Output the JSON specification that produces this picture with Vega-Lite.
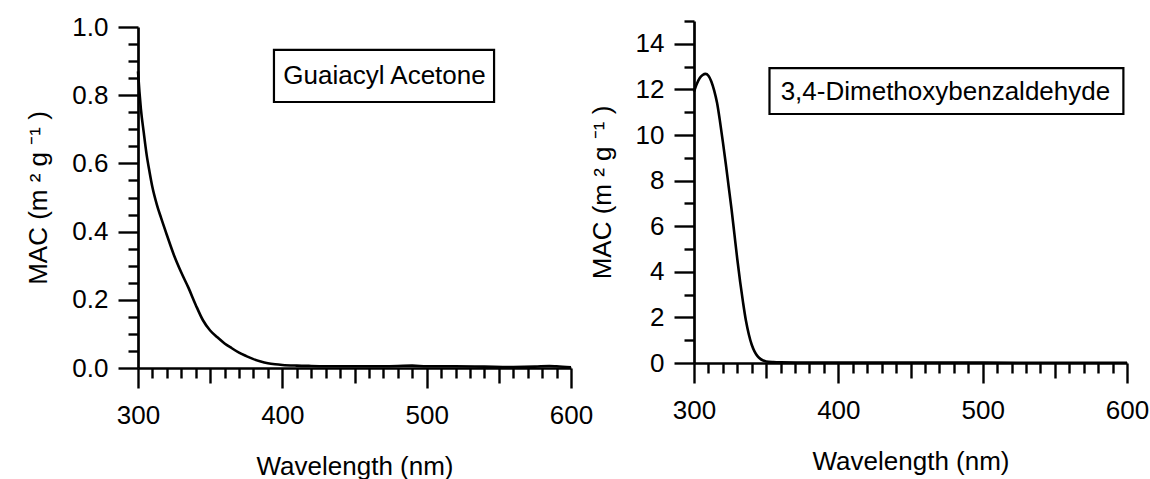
{
  "$schema": "https://vega.github.io/schema/vega-lite/v6.json",
  "autosize": {"type": "pad"},
  "padding": {"left": 25, "top": 14, "right": 0, "bottom": 0},
  "background": "white",
  "spacing": 123,
  "bounds": "flush",
  "config": {
    "view": {"stroke": null},
    "font": "Liberation Sans",
    "axis": {"grid": false, "labelFont": "Liberation Sans", "titleFont": "Liberation Sans", "labelColor": "#000", "titleColor": "#000", "tickColor": "#000", "domainColor": "#000", "tickWidth": 2.4, "domainWidth": 2.7, "labelFlush": false, "labelOverlap": false, "labelBound": false}
  },
  "datasets": {
    "ga": [
      {"wavelength": 300, "mac": 0.87}, {"wavelength": 301, "mac": 0.81}, {"wavelength": 302, "mac": 0.76},
      {"wavelength": 304, "mac": 0.69}, {"wavelength": 306, "mac": 0.625}, {"wavelength": 308, "mac": 0.575},
      {"wavelength": 310, "mac": 0.53}, {"wavelength": 313, "mac": 0.48}, {"wavelength": 316, "mac": 0.44},
      {"wavelength": 320, "mac": 0.39}, {"wavelength": 325, "mac": 0.33}, {"wavelength": 330, "mac": 0.28},
      {"wavelength": 335, "mac": 0.235}, {"wavelength": 340, "mac": 0.185}, {"wavelength": 345, "mac": 0.14},
      {"wavelength": 350, "mac": 0.11}, {"wavelength": 355, "mac": 0.09}, {"wavelength": 360, "mac": 0.072},
      {"wavelength": 365, "mac": 0.058}, {"wavelength": 370, "mac": 0.045}, {"wavelength": 375, "mac": 0.035},
      {"wavelength": 380, "mac": 0.026}, {"wavelength": 385, "mac": 0.019}, {"wavelength": 390, "mac": 0.014},
      {"wavelength": 395, "mac": 0.011}, {"wavelength": 400, "mac": 0.009}, {"wavelength": 410, "mac": 0.007},
      {"wavelength": 420, "mac": 0.006}, {"wavelength": 440, "mac": 0.005}, {"wavelength": 460, "mac": 0.005},
      {"wavelength": 480, "mac": 0.006}, {"wavelength": 490, "mac": 0.007}, {"wavelength": 500, "mac": 0.005},
      {"wavelength": 520, "mac": 0.005}, {"wavelength": 540, "mac": 0.004}, {"wavelength": 560, "mac": 0.003},
      {"wavelength": 575, "mac": 0.004}, {"wavelength": 585, "mac": 0.006}, {"wavelength": 590, "mac": 0.005},
      {"wavelength": 600, "mac": 0.002}
    ],
    "dmb": [
      {"wavelength": 300, "mac": 11.9}, {"wavelength": 302, "mac": 12.25}, {"wavelength": 304, "mac": 12.5},
      {"wavelength": 306, "mac": 12.63}, {"wavelength": 308, "mac": 12.68}, {"wavelength": 310, "mac": 12.6},
      {"wavelength": 312, "mac": 12.35}, {"wavelength": 314, "mac": 11.95}, {"wavelength": 316, "mac": 11.4},
      {"wavelength": 318, "mac": 10.6}, {"wavelength": 320, "mac": 9.7}, {"wavelength": 322, "mac": 8.75},
      {"wavelength": 324, "mac": 7.75}, {"wavelength": 326, "mac": 6.75}, {"wavelength": 328, "mac": 5.65},
      {"wavelength": 330, "mac": 4.55}, {"wavelength": 332, "mac": 3.55}, {"wavelength": 334, "mac": 2.65},
      {"wavelength": 336, "mac": 1.85}, {"wavelength": 338, "mac": 1.25}, {"wavelength": 340, "mac": 0.8},
      {"wavelength": 342, "mac": 0.5}, {"wavelength": 344, "mac": 0.3}, {"wavelength": 346, "mac": 0.18},
      {"wavelength": 348, "mac": 0.11}, {"wavelength": 350, "mac": 0.07}, {"wavelength": 355, "mac": 0.04},
      {"wavelength": 360, "mac": 0.03}, {"wavelength": 380, "mac": 0.02}, {"wavelength": 400, "mac": 0.02},
      {"wavelength": 450, "mac": 0.02}, {"wavelength": 500, "mac": 0.015}, {"wavelength": 550, "mac": 0.01},
      {"wavelength": 600, "mac": 0.01}
    ]
  },
  "hconcat": [
    {
      "width": 433,
      "height": 347,
      "resolve": {"axis": {"x": "independent", "y": "independent"}},
      "layer": [
        {
          "data": {"name": "ga"},
          "mark": {"type": "line", "color": "#000", "strokeWidth": 2.6, "interpolate": "monotone"},
          "encoding": {
            "x": {"field": "wavelength", "type": "quantitative", "scale": {"domain": [300, 600], "nice": false, "zero": false},
              "axis": {"orient": "bottom", "values": [300, 400, 500, 600], "tickSize": 20, "labelFontSize": 26, "labelPadding": 14, "title": "Wavelength (nm)", "titleFontSize": 26, "titleFontWeight": "normal", "titlePadding": 25}},
            "y": {"field": "mac", "type": "quantitative", "scale": {"domain": [0, 1], "range": [347, 6], "nice": false},
              "axis": {"orient": "left", "values": [0, 0.2, 0.4, 0.6, 0.8, 1.0], "format": ".1f", "tickSize": 20, "labelFontSize": 26, "labelPadding": 10, "title": "MAC (m ² g ⁻¹ )", "titleFontSize": 26, "titleFontWeight": "normal", "titlePadding": 20}}
          }
        },
        {
          "data": {"name": "ga"},
          "mark": {"type": "line", "strokeOpacity": 0},
          "encoding": {
            "x": {"field": "wavelength", "type": "quantitative",
              "axis": {"orient": "bottom", "values": [310, 320, 330, 340, 360, 370, 380, 390, 410, 420, 430, 440, 460, 470, 480, 490, 510, 520, 530, 540, 560, 570, 580, 590], "tickSize": 10, "labels": false, "domain": false, "title": null}},
            "y": {"field": "mac", "type": "quantitative",
              "axis": {"orient": "left", "values": [0.05, 0.1, 0.15, 0.25, 0.3, 0.35, 0.45, 0.5, 0.55, 0.65, 0.7, 0.75, 0.85, 0.9, 0.95], "tickSize": 10, "labels": false, "domain": false, "title": null}}
          }
        },
        {
          "data": {"name": "ga"},
          "mark": {"type": "line", "strokeOpacity": 0},
          "encoding": {
            "x": {"field": "wavelength", "type": "quantitative",
              "axis": {"orient": "bottom", "values": [350, 450, 550], "tickSize": 15, "labels": false, "domain": false, "title": null}},
            "y": {"field": "mac", "type": "quantitative", "axis": null}
          }
        },
        {
          "data": {"values": [{"label": "Guaiacyl Acetone"}]},
          "mark": {"type": "rect", "fill": "white", "stroke": "#000", "strokeWidth": 2.2},
          "encoding": {
            "x": {"datum": 394.2, "type": "quantitative", "axis": null},
            "x2": {"datum": 546.7},
            "y": {"datum": 0.933, "type": "quantitative", "axis": null},
            "y2": {"datum": 0.78}
          }
        },
        {
          "data": {"values": [{"label": "Guaiacyl Acetone"}]},
          "mark": {"type": "text", "fontSize": 26, "font": "Liberation Sans", "color": "#000", "align": "center", "baseline": "middle"},
          "encoding": {
            "x": {"datum": 470.8, "type": "quantitative", "axis": null},
            "y": {"datum": 0.856, "type": "quantitative", "axis": null},
            "text": {"field": "label"}
          }
        }
      ]
    },
    {
      "width": 433,
      "height": 342,
      "resolve": {"axis": {"x": "independent", "y": "independent"}},
      "layer": [
        {
          "data": {"name": "dmb"},
          "mark": {"type": "line", "color": "#000", "strokeWidth": 2.6, "interpolate": "monotone"},
          "encoding": {
            "x": {"field": "wavelength", "type": "quantitative", "scale": {"domain": [300, 600], "nice": false, "zero": false},
              "axis": {"orient": "bottom", "values": [300, 400, 500, 600], "tickSize": 20, "labelFontSize": 26, "labelPadding": 14, "title": "Wavelength (nm)", "titleFontSize": 26, "titleFontWeight": "normal", "titlePadding": 25}},
            "y": {"field": "mac", "type": "quantitative", "scale": {"domain": [0, 15], "nice": false},
              "axis": {"orient": "left", "values": [0, 2, 4, 6, 8, 10, 12, 14], "format": "d", "tickSize": 20, "labelFontSize": 26, "labelPadding": 10, "title": "MAC (m ² g ⁻¹ )", "titleFontSize": 26, "titleFontWeight": "normal", "titlePadding": 20}}
          }
        },
        {
          "data": {"name": "dmb"},
          "mark": {"type": "line", "strokeOpacity": 0},
          "encoding": {
            "x": {"field": "wavelength", "type": "quantitative",
              "axis": {"orient": "bottom", "values": [310, 320, 330, 340, 360, 370, 380, 390, 410, 420, 430, 440, 460, 470, 480, 490, 510, 520, 530, 540, 560, 570, 580, 590], "tickSize": 10, "labels": false, "domain": false, "title": null}},
            "y": {"field": "mac", "type": "quantitative",
              "axis": {"orient": "left", "values": [1, 3, 5, 7, 9, 11, 13, 15], "tickSize": 10, "labels": false, "domain": false, "title": null}}
          }
        },
        {
          "data": {"name": "dmb"},
          "mark": {"type": "line", "strokeOpacity": 0},
          "encoding": {
            "x": {"field": "wavelength", "type": "quantitative",
              "axis": {"orient": "bottom", "values": [350, 450, 550], "tickSize": 15, "labels": false, "domain": false, "title": null}},
            "y": {"field": "mac", "type": "quantitative", "axis": null}
          }
        },
        {
          "data": {"values": [{"label": "3,4-Dimethoxybenzaldehyde"}]},
          "mark": {"type": "rect", "fill": "white", "stroke": "#000", "strokeWidth": 2.2},
          "encoding": {
            "x": {"datum": 352.3, "type": "quantitative", "axis": null},
            "x2": {"datum": 597.5},
            "y": {"datum": 12.93, "type": "quantitative", "axis": null},
            "y2": {"datum": 10.92}
          }
        },
        {
          "data": {"values": [{"label": "3,4-Dimethoxybenzaldehyde"}]},
          "mark": {"type": "text", "fontSize": 26, "font": "Liberation Sans", "color": "#000", "align": "center", "baseline": "middle"},
          "encoding": {
            "x": {"datum": 474.2, "type": "quantitative", "axis": null},
            "y": {"datum": 11.89, "type": "quantitative", "axis": null},
            "text": {"field": "label"}
          }
        }
      ]
    }
  ]
}
